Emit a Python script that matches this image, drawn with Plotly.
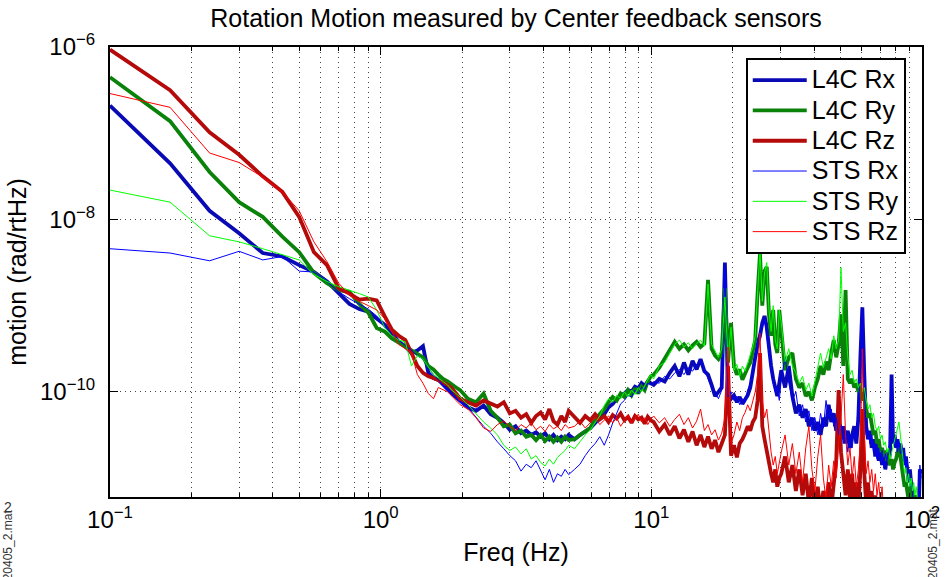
import plotly.graph_objects as go

# ---------------- data ----------------
# frequency bins (Hz)
freq_hz = [
    0.1, 0.1667, 0.2333, 0.3, 0.3667, 0.4333, 0.5, 0.5667, 0.6333, 0.7,
    0.7667, 0.8333, 0.9, 0.9667, 1.0333, 1.1, 1.1667, 1.2333, 1.3, 1.3667,
    1.4333, 1.5, 1.5667, 1.6333, 1.7, 1.7667, 1.8333, 1.9, 1.9667,
    2.1, 2.25, 2.4, 2.55, 2.7, 2.85, 3.0, 3.15, 3.3, 3.45,
    3.6, 3.75, 3.9, 4.05, 4.2, 4.35, 4.5, 4.65, 4.8, 4.95,
    5.2, 5.45, 5.7, 5.95, 6.2, 6.45, 6.7, 6.95, 7.2, 7.45,
    7.7, 7.95, 8.2, 8.45, 8.7, 8.95, 9.2, 9.45, 9.7, 9.95,
    10.2, 10.7, 11.2, 11.7, 12.2, 12.7, 13.2, 13.7, 14.2, 14.7,
    15.2, 15.7, 16.2, 16.7, 17.2, 17.7, 18.2, 18.7, 19.2, 19.7,
    20.2, 20.7, 21.2, 21.7, 22.2, 22.7, 23.2, 23.7, 24.2, 24.7,
    25.2, 25.7, 26.2, 26.7, 27.2, 27.7, 28.2, 28.7, 29.2, 29.7,
    30.2, 31.2, 32.2, 33.2, 34.2, 35.2, 36.2, 37.2, 38.2, 39.2,
    40.2, 41.2, 42.2, 43.2, 44.2, 45.2, 46.2, 47.2, 48.2, 49.2,
    50.2, 51.2, 52.2, 53.2, 54.2, 55.2, 56.2, 57.2, 58.2, 59.2,
    60.2, 61.2, 62.2, 63.2, 64.2, 65.2, 66.2, 67.2, 68.2, 69.2,
    70.2, 71.2, 72.2, 73.2, 74.2, 75.2, 76.2, 77.2, 78.2, 79.2,
    80.2, 81.2, 82.2, 83.2, 84.2, 85.2, 86.2, 87.2, 88.2, 89.2,
    90.2, 91.2, 92.2, 93.2, 94.2, 95.2, 96.2, 97.2, 98.2, 99.2,
]

# motion, given as log10(rad/rtHz)
l4c_rx_log10 = [
    -6.68, -7.35, -7.90, -8.16, -8.39, -8.43, -8.53, -8.61, -8.72, -8.86,
    -8.98, -9.04, -9.07, -9.15, -9.22, -9.32, -9.42, -9.47, -9.55, -9.52,
    -9.47, -9.78, -9.84, -9.86, -9.92, -9.98, -10.02, -10.06, -10.10,
    -10.18, -10.22, -10.16, -10.26, -10.30, -10.36, -10.44, -10.40, -10.48, -10.45,
    -10.50, -10.47, -10.52, -10.48, -10.55, -10.50, -10.56, -10.52, -10.55, -10.50,
    -10.55, -10.50, -10.46, -10.42, -10.36, -10.30, -10.26, -10.18, -10.14, -10.08,
    -10.04, -10.02, -9.98, -10.00, -9.94, -9.96, -9.90, -9.93, -9.88, -9.90,
    -9.92, -9.85, -9.88, -9.78, -9.70, -9.82, -9.66, -9.80, -9.64, -9.74,
    -9.62, -9.76, -9.80, -9.92, -10.05, -10.00, -9.95, -8.50, -10.02, -10.08,
    -10.04, -10.12, -10.06, -10.14, -10.08, -10.04, -9.95, -9.80, -9.60, -9.45,
    -9.35, -9.20, -9.12, -9.25, -9.50, -9.70, -9.85, -9.95, -10.05, -9.90,
    -9.75, -9.95, -9.70, -10.05, -10.25, -10.15, -10.30, -10.20, -10.40, -10.30,
    -10.45, -10.35, -10.50, -10.30, -10.40, -10.15, -10.35, -10.25, -10.45, -10.35,
    -10.55, -10.40, -10.60, -10.45, -10.65, -10.50, -10.40, -10.60, -10.30, -9.60,
    -9.02, -9.80, -10.40, -10.55, -10.45, -10.65, -10.55, -10.75, -10.60, -10.80,
    -10.65, -10.85, -10.70, -10.90, -10.75, -10.85, -10.70, -9.80, -10.60, -10.50,
    -10.65, -10.55, -10.70, -10.60, -10.75, -10.65, -10.85, -10.75, -10.95, -11.05,
    -10.90, -11.10, -11.30, -11.40, -11.35, -11.40, -11.45, -11.40, -10.90, -10.95,
]

l4c_ry_log10 = [
    -6.35, -6.86, -7.45, -7.80, -7.97, -8.20, -8.38, -8.62, -8.74, -8.82,
    -8.84, -8.98, -9.08, -9.26, -9.30, -9.38, -9.43, -9.47, -9.52, -9.56,
    -9.60, -9.70, -9.74, -9.80, -9.85, -9.88, -9.92, -9.95, -9.98,
    -10.08, -10.12, -10.02, -10.22, -10.30, -10.40, -10.38, -10.48, -10.45, -10.52,
    -10.50, -10.56, -10.50, -10.57, -10.52, -10.58, -10.53, -10.58, -10.52, -10.56,
    -10.55, -10.50, -10.46, -10.42, -10.32, -10.26, -10.20, -10.12, -10.06, -10.10,
    -10.02, -10.06, -9.98, -10.04, -9.96, -10.02, -9.94, -9.98, -9.88, -9.82,
    -9.80, -9.72, -9.62, -9.52, -9.42, -9.50, -9.45, -9.52, -9.46, -9.42,
    -9.48, -9.44, -8.70, -9.50, -9.58, -9.62, -9.55, -8.80, -9.66, -9.20,
    -9.70, -9.80, -9.74, -9.86, -9.78, -9.72, -9.66, -9.55, -9.40, -8.85,
    -8.40, -9.00, -8.60, -8.55, -9.10, -9.35, -9.05, -9.45, -9.55, -9.05,
    -9.30, -9.75, -9.60, -9.55, -9.85, -9.95, -9.90, -10.05, -10.00, -10.10,
    -9.95, -9.85, -9.70, -9.80, -9.65, -9.75, -9.55, -9.40, -9.60, -9.45,
    -9.10, -9.70, -8.82, -9.85, -9.90, -9.85, -9.95, -9.90, -10.00, -9.95,
    -10.10, -10.05, -10.20, -10.30, -10.25, -10.40, -10.50, -10.45, -10.60, -10.55,
    -10.70, -10.65, -10.75, -10.68, -10.80, -10.74, -10.85, -10.78, -10.90, -10.82,
    -10.78, -10.70, -10.65, -10.75, -10.90, -11.00, -11.10, -11.05, -11.15, -11.25,
    -11.10, -11.20, -11.15, -11.30, -11.20, -11.35, -11.25, -11.40, -11.30, -11.40,
]

l4c_rz_log10 = [
    -6.03, -6.50, -6.99, -7.25, -7.50, -7.68, -7.97, -8.38, -8.53, -8.80,
    -8.86, -8.93, -8.92, -8.94, -9.12, -9.28, -9.35, -9.40, -9.55, -9.70,
    -9.78, -9.82, -9.84, -9.86, -9.89, -9.92, -9.96, -10.02, -10.08,
    -10.12, -10.16, -10.10, -10.14, -10.17, -10.12, -10.25, -10.22, -10.30, -10.26,
    -10.36, -10.28, -10.24, -10.32, -10.20, -10.34, -10.38, -10.28, -10.35, -10.22,
    -10.30, -10.36, -10.28, -10.33, -10.26, -10.32, -10.28, -10.35, -10.27, -10.31,
    -10.25, -10.33, -10.29, -10.36, -10.28, -10.32, -10.30, -10.37, -10.29, -10.33,
    -10.35, -10.46, -10.38, -10.50, -10.40, -10.54, -10.44, -10.58, -10.46, -10.62,
    -10.50, -10.64, -10.52, -10.66, -10.56, -10.70, -10.60, -10.50, -9.70, -10.74,
    -10.62, -10.76, -10.60, -10.55, -10.48, -10.40, -10.45, -10.35, -10.30, -10.10,
    -9.55, -10.40, -10.55, -10.70, -10.85, -10.95, -11.05, -10.90, -11.10, -11.00,
    -10.95, -10.75, -11.05, -10.85, -11.15, -10.90, -11.20, -10.95, -11.30, -11.00,
    -11.35, -11.10, -11.40, -11.15, -11.30, -11.05, -11.35, -11.10, -10.80, -9.98,
    -10.70, -10.95, -11.20, -10.90, -11.25, -10.95, -11.30, -11.05, -11.35, -10.90,
    -10.20, -10.95, -11.30, -11.05, -11.40, -11.15, -11.45, -11.20, -11.50, -11.30,
    -11.50, -11.40, -11.55, -11.45, -11.50, -11.55, -11.50, -11.55, -11.50, -11.55,
    -11.50, -11.55, -11.50, -11.55, -11.50, -11.55, -11.50, -11.55, -11.50, -11.55,
    -11.50, -11.55, -11.50, -11.55, -11.50, -11.55, -11.50, -11.55, -11.50, -11.55,
]

sts_rx_log10 = [
    -8.34, -8.39, -8.48, -8.37, -8.47, -8.43, -8.60, -8.61, -8.72, -8.84,
    -8.92, -8.98, -9.04, -9.12, -9.25, -9.34, -9.40, -9.46, -9.52, -9.58,
    -9.62, -9.72, -9.80, -9.86, -9.92, -9.98, -10.04, -10.08, -10.12,
    -10.18, -10.30, -10.40, -10.48, -10.58, -10.66, -10.74, -10.80, -10.92, -10.84,
    -10.88, -10.80, -10.92, -11.02, -10.90, -11.05, -10.95, -10.98, -10.90, -10.96,
    -10.90, -10.84, -10.74, -10.66, -10.60, -10.52, -10.62, -10.50, -10.36, -10.24,
    -10.14, -10.10, -10.04, -10.06, -9.98, -10.02, -9.95, -9.97, -9.90, -9.92,
    -9.88, -9.90, -9.82, -9.85, -9.78, -9.74, -9.80, -9.72, -9.76, -9.68,
    -9.64, -9.74, -9.85, -9.95, -10.00, -10.08, -9.98, -8.55, -10.06, -10.00,
    -10.10, -10.05, -10.15, -10.08, -10.12, -9.98, -9.90, -9.75, -9.62, -9.40,
    -9.30, -9.25, -9.15, -9.35, -9.55, -9.75, -9.90, -10.00, -9.95, -10.10,
    -9.85, -9.60, -9.90, -10.10, -10.00, -10.28, -10.15, -10.35, -10.22, -10.45,
    -10.30, -10.50, -10.25, -10.42, -10.10, -10.30, -10.20, -10.40, -10.30, -10.50,
    -10.38, -10.60, -10.45, -10.70, -10.50, -10.65, -10.45, -10.55, -10.20, -9.70,
    -9.05, -9.90, -10.50, -10.45, -10.60, -10.50, -10.70, -10.60, -10.78, -10.65,
    -10.82, -10.68, -10.88, -10.72, -10.80, -10.65, -10.60, -9.85, -10.50, -10.62,
    -10.55, -10.70, -10.58, -10.72, -10.62, -10.80, -10.70, -10.90, -10.80, -11.00,
    -11.10, -11.00, -11.25, -11.35, -11.40, -11.45, -11.40, -11.35, -10.85, -11.00,
]

sts_ry_log10 = [
    -7.66, -7.80, -8.19, -8.26, -8.34, -8.41, -8.47, -8.64, -8.72, -8.78,
    -8.82, -8.86, -8.90, -9.05, -9.25, -9.35, -9.40, -9.42, -9.70, -9.58,
    -9.62, -9.72, -9.80, -9.84, -9.88, -9.92, -9.98, -10.02, -10.06,
    -10.15, -10.25, -10.35, -10.42, -10.50, -10.62, -10.68, -10.64, -10.72, -10.66,
    -10.78, -10.74, -10.82, -10.86, -10.78, -10.84, -10.76, -10.72, -10.68, -10.62,
    -10.66, -10.58, -10.50, -10.44, -10.36, -10.28, -10.16, -10.08, -10.12, -10.04,
    -10.08, -10.00, -10.06, -9.98, -10.03, -9.95, -10.00, -9.92, -9.86, -9.80,
    -9.85, -9.70, -9.66, -9.55, -9.45, -9.40, -9.48, -9.43, -9.50, -9.44,
    -9.40, -9.47, -8.75, -9.45, -9.52, -9.60, -9.50, -8.90, -9.62, -9.25,
    -9.75, -9.68, -9.82, -9.70, -9.76, -9.66, -9.58, -9.48, -9.35, -8.90,
    -8.36, -8.95, -8.62, -8.50, -9.05, -9.30, -9.00, -9.40, -9.50, -9.05,
    -9.20, -9.65, -9.50, -9.70, -9.78, -9.90, -9.82, -9.98, -9.90, -10.05,
    -9.88, -9.75, -9.55, -9.72, -9.60, -9.50, -9.62, -9.35, -9.50, -9.40,
    -8.56, -9.30, -9.20, -9.60, -9.80, -9.75, -9.90, -9.85, -9.95, -9.90,
    -10.00, -9.95, -10.10, -10.20, -10.15, -10.30, -10.25, -10.40, -10.45, -10.40,
    -10.55, -10.50, -10.62, -10.58, -10.70, -10.65, -10.78, -10.70, -10.62, -10.55,
    -10.48, -10.42, -10.35, -10.50, -10.62, -10.80, -10.95, -10.88, -11.05, -10.95,
    -11.10, -11.00, -11.15, -11.05, -11.20, -11.10, -11.25, -11.35, -11.30, -11.45,
]

sts_rz_log10 = [
    -6.54, -6.70, -7.23, -7.34, -7.51, -7.68, -7.90, -8.26, -8.49, -8.74,
    -8.88, -8.95, -9.00, -9.05, -9.15, -9.30, -9.45, -9.50, -9.55, -9.80,
    -9.90, -10.02, -10.08, -9.95, -9.98, -10.00, -10.05, -10.10, -10.15,
    -10.20, -10.30, -10.42, -10.46, -10.38, -10.34, -10.40, -10.45, -10.38, -10.42,
    -10.36, -10.44, -10.40, -10.46, -10.38, -10.43, -10.40, -10.45, -10.38, -10.42,
    -10.40, -10.34, -10.42, -10.36, -10.30, -10.38, -10.33, -10.28, -10.36, -10.30,
    -10.40, -10.34, -10.27, -10.36, -10.31, -10.26, -10.35, -10.30, -10.38, -10.32,
    -10.28, -10.36, -10.30, -10.40, -10.32, -10.26, -10.38, -10.30, -10.42, -10.34,
    -10.20, -10.45, -10.38, -10.50, -10.44, -10.56, -10.48, -10.30, -9.48, -10.60,
    -10.50, -10.35, -10.45, -10.30, -10.24, -10.15, -10.22, -10.10, -10.00, -9.80,
    -9.32, -10.10, -10.30, -10.20, -10.50, -10.70, -10.85, -10.75, -10.95, -10.80,
    -10.70, -10.50, -10.85, -10.60, -10.95, -10.70, -11.05, -10.65, -10.40, -10.90,
    -11.15, -10.75, -10.50, -11.00, -11.25, -10.85, -11.10, -10.80, -11.00, -10.60,
    -10.30, -9.80, -10.50, -10.85, -10.65, -11.00, -10.75, -11.10, -10.90, -10.60,
    -9.50, -10.50, -10.95, -10.80, -11.05, -10.90, -11.15, -10.95, -11.20, -11.05,
    -11.30, -11.10, -11.40, -11.25, -11.45, -11.35, -11.50, -11.45, -11.55, -11.50,
    -11.55, -11.50, -11.55, -11.50, -11.55, -11.50, -11.55, -11.50, -11.55, -11.50,
    -11.55, -11.50, -11.55, -11.50, -11.55, -11.50, -11.55, -11.50, -11.55, -11.50,
]

series_names = ["L4C Rx", "L4C Ry", "L4C Rz", "STS Rx", "STS Ry", "STS Rz"]
x_tick_labels = ["10<sup>−1</sup>", "10<sup>0</sup>", "10<sup>1</sup>", "10<sup>2</sup>"]
y_tick_labels = ["10<sup>−10</sup>", "10<sup>−8</sup>", "10<sup>−6</sup>"]

# ---------------- figure ----------------
all_log = [l4c_rx_log10, l4c_ry_log10, l4c_rz_log10,
           sts_rx_log10, sts_ry_log10, sts_rz_log10]
for name, s in zip(series_names, all_log):
    assert len(s) == len(freq_hz), (name, len(s), len(freq_hz))

colors = ["#0a0ab4", "#0a820a", "#b40a0a", "#0000ff", "#00ff00", "#ff0000"]
widths = [3.8, 3.8, 3.8, 1.0, 1.0, 1.0]

FONT = "Helvetica, Liberation Sans, Arial, sans-serif"

fig = go.Figure()
for name, s, c, w in zip(series_names, all_log, colors, widths):
    fig.add_trace(go.Scatter(
        x=freq_hz, y=[10 ** v for v in s], mode="lines",
        name="<span style='font-size:25px'>" + name + "</span>",
        line=dict(color=c, width=w),
    ))

minor_x = [m * 10 ** e for e in (-1, 0, 1) for m in range(2, 10)]
grid_col = "#444444"
grid_dash = "1px,4px"

fig.update_layout(
    width=951, height=577,
    margin=dict(l=110, r=29, t=47, b=80, autoexpand=False),
    paper_bgcolor="white", plot_bgcolor="white",
    font=dict(family=FONT, color="black"),
    showlegend=True,
    title=dict(text="Rotation Motion measured by Center feedback sensors",
               x=0.5, xref="paper", xanchor="center",
               y=1 - 18 / 577, yref="container", yanchor="middle",
               font=dict(size=25, family=FONT, color="black")),
    legend=dict(x=0.98, xanchor="right", y=0.9756, yanchor="top",
                bgcolor="white", bordercolor="black", borderwidth=2,
                font=dict(size=21, family=FONT, color="black"),
                itemwidth=54, tracegroupgap=0),
    xaxis=dict(type="log", range=[-1, 2], automargin=False,
               tickmode="array", tickvals=[0.1, 1, 10, 100], ticktext=x_tick_labels,
               ticks="inside", ticklen=8, tickwidth=1, tickcolor="black",
               showline=True, linecolor="black", linewidth=2, mirror="ticks",
               showgrid=True, gridcolor=grid_col, gridwidth=1, griddash=grid_dash,
               zeroline=False,
               minor=dict(tickmode="array", tickvals=minor_x, ticks="inside",
                          ticklen=4, tickcolor="black", showgrid=True,
                          gridcolor=grid_col, gridwidth=1, griddash=grid_dash),
               tickfont=dict(size=24, family=FONT, color="black"),
               title=dict(text="Freq (Hz)", standoff=12,
                          font=dict(size=25, family=FONT, color="black"))),
    yaxis=dict(type="log", range=[-11.22, -6], automargin=False,
               tickmode="array", tickvals=[1e-10, 1e-8, 1e-6], ticktext=y_tick_labels,
               ticks="inside", ticklen=8, tickwidth=1, tickcolor="black",
               showline=True, linecolor="black", linewidth=2, mirror="ticks",
               showgrid=True, gridcolor=grid_col, gridwidth=1, griddash=grid_dash,
               zeroline=False, ticklabelstandoff=8,
               tickfont=dict(size=24, family=FONT, color="black"),
               title=dict(text="motion (rad/rtHz)", standoff=6,
                          font=dict(size=25, family=FONT, color="black"))),
)

# file-name stamps at the lower corners
for xp in (8, 933):
    fig.add_annotation(text="120405_2.mat", textangle=-90, showarrow=False,
                       xref="paper", yref="paper",
                       x=(xp - 110) / 812, y=(497 - 548) / 450,
                       xanchor="center", yanchor="middle",
                       font=dict(size=12, family=FONT, color="#333333"))
fig.add_annotation(text="2", showarrow=False, xref="paper", yref="paper",
                   x=(8 - 110) / 812, y=(497 - 507) / 450,
                   xanchor="center", yanchor="middle",
                   font=dict(size=14, family=FONT, color="#333333"))

fig.write_html("out.html",
               config={"displayModeBar": False},
               post_script="document.body.style.margin='0px';"
                           "document.body.style.padding='0px';")
